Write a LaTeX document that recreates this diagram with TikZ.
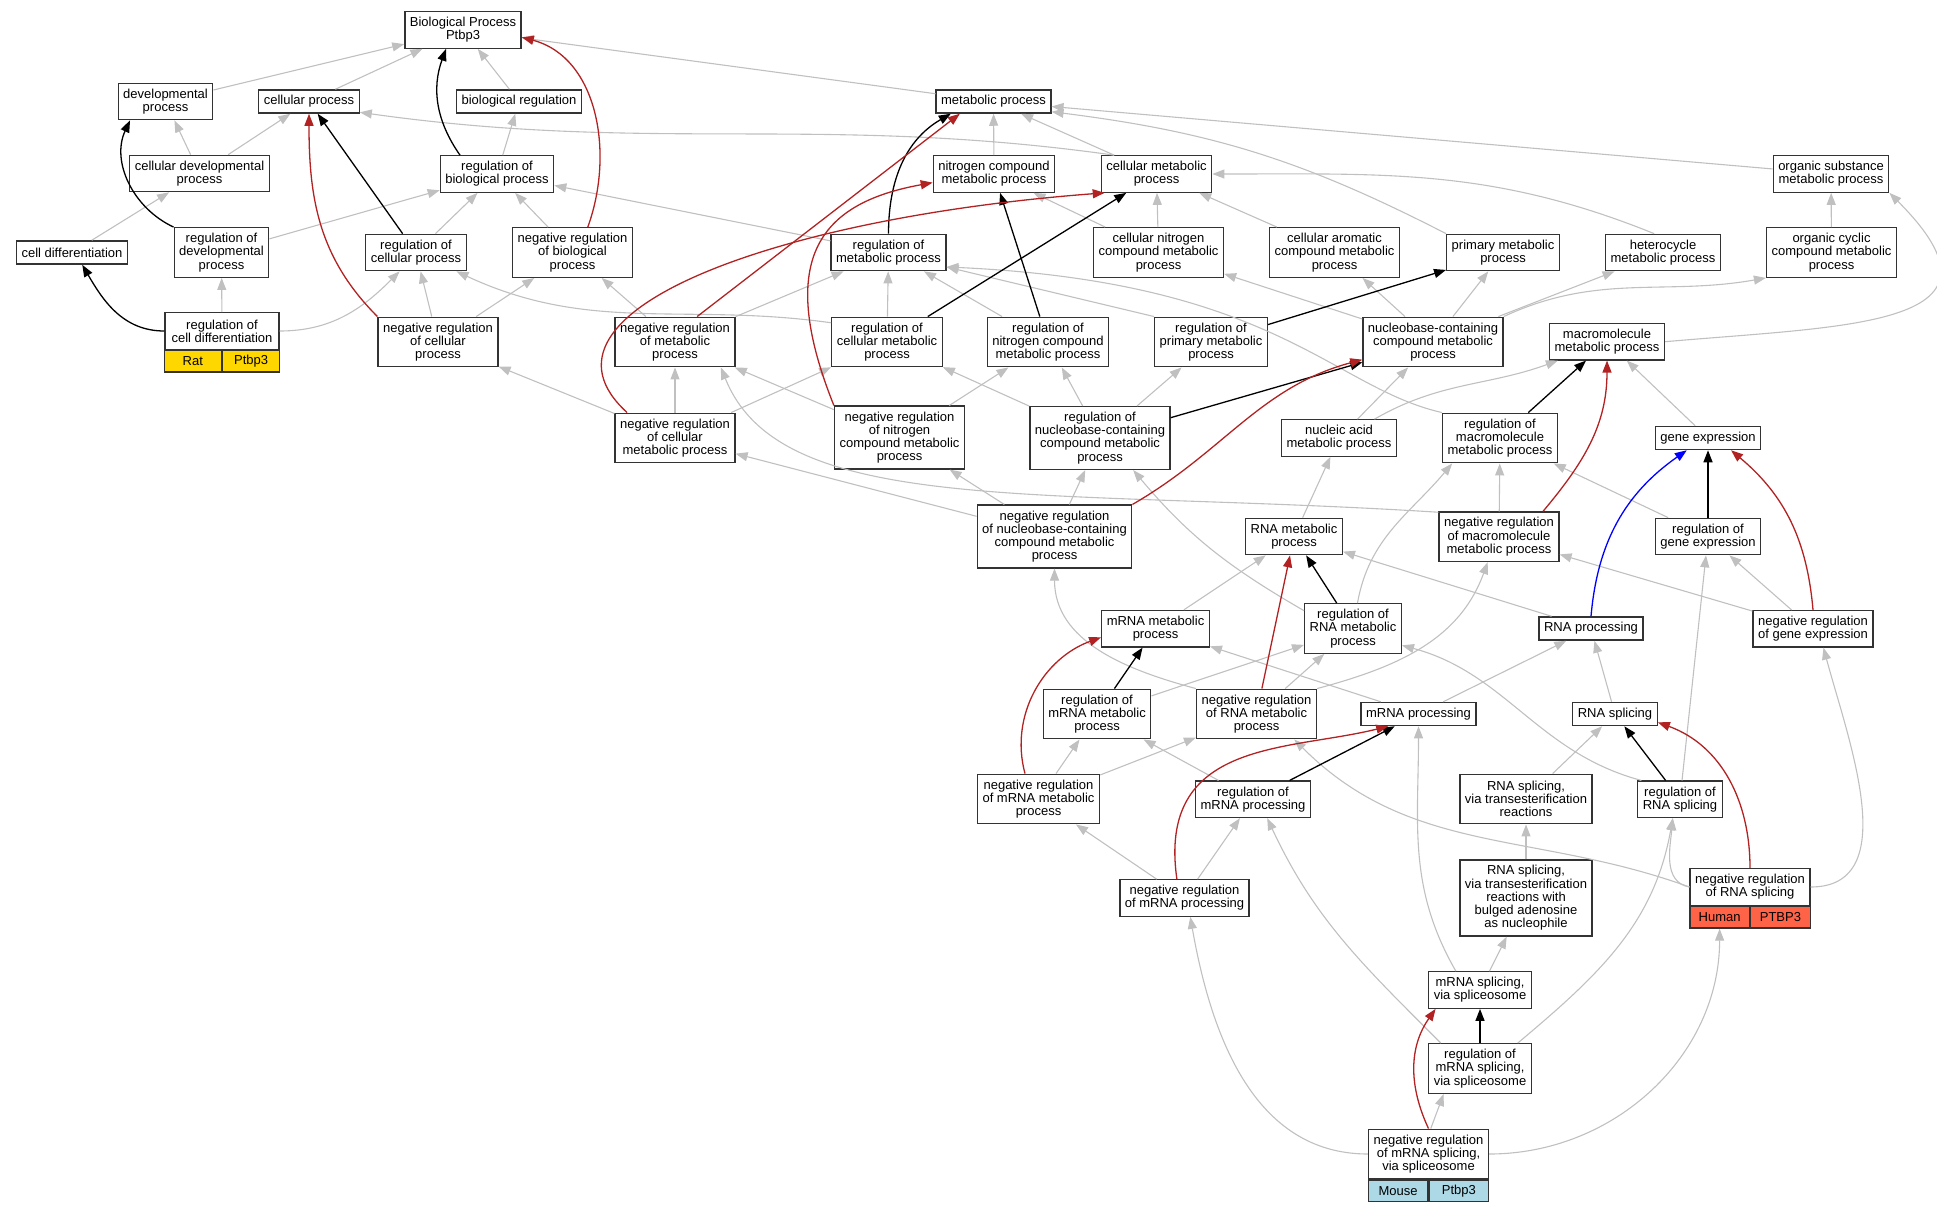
\documentclass[tikz,border=0pt]{standalone}
\usepackage{xcolor}
\usepackage{fontspec}
\setmainfont{Liberation Sans}
\usepackage{tikz}
\usetikzlibrary{bayesnet, calc, arrows.meta}

\definecolor{isagray}{HTML}{C0C0C0}
\definecolor{negred}{HTML}{B22222}
\definecolor{ratgold}{HTML}{FFD700}
\definecolor{humanred}{HTML}{FF6347}
\definecolor{mouseblue}{HTML}{ADD8E6}

\tikzset{
  term/.style={draw=black!80, line width=1.3pt, fill=white, rectangle, align=center,
    inner xsep=5pt, inner ysep=0pt, font=\fontsize{13}{13.2}\selectfont},
  nl/.style={minimum height={(10+13.2*#1)*1pt}},
  cell/.style={draw=black!80, line width=1.3pt, rectangle, inner sep=0pt,
    minimum height=21.5pt, font=\fontsize{13}{13.2}\selectfont},
  isa/.style={draw=isagray, line width=1.1pt, -{Triangle[length=12pt,width=9pt]}},
  reg/.style={draw=black, line width=1.3pt, -{Triangle[length=12pt,width=9pt]}},
  negreg/.style={draw=negred, line width=1.3pt, -{Triangle[length=12pt,width=9pt]}},
  partof/.style={draw=blue, line width=1.3pt, -{Triangle[length=12pt,width=9pt]}},
}

\begin{document}
\begin{tikzpicture}[x=1pt, y=1pt]
            \useasboundingbox (0,0) rectangle (1937,-1211);
            % top rows
            \node[term, nl=2] (bp) at (463,-30) {Biological Process\\Ptbp3};
            \node[term, nl=2] (dev) at (165.5,-101.5) {developmental\\process};
            \node[term, nl=1] (cellproc) at (309,-101.5) {cellular process};
            \node[term, nl=1] (bioreg) at (519,-101.5) {biological regulation};
            \node[term, nl=1] (metab) at (993.5,-101.5) {metabolic process};
            \node[term, nl=2] (celldev) at (199.5,-173.5) {cellular developmental\\process};
            \node[term, nl=2] (regbio) at (497,-174) {regulation of\\biological process};
            \node[term, nl=2] (nitro) at (994,-174) {nitrogen compound\\metabolic process};
            \node[term, nl=2] (cellmetab) at (1156.5,-174) {cellular metabolic\\process};
            \node[term, nl=2] (orgsub) at (1831,-174) {organic substance\\metabolic process};
            \node[term, nl=1] (celldiff) at (72,-252.5) {cell differentiation};
            \node[term, nl=3] (regdev) at (221.5,-252.5) {regulation of\\developmental\\process};
            \node[term, nl=2] (regcellproc) at (416,-252.5) {regulation of\\cellular process};
            \node[term, nl=3] (negregbio) at (572.5,-252.5) {negative regulation\\of biological\\process};
            \node[term, nl=2] (regmetab) at (888.5,-252.5) {regulation of\\metabolic process};
            \node[term, nl=3] (cellnitro) at (1158.5,-252.5) {cellular nitrogen\\compound metabolic\\process};
            \node[term, nl=3] (cellarom) at (1334.5,-252.5) {cellular aromatic\\compound metabolic\\process};
            \node[term, nl=2] (primary) at (1503,-252.5) {primary metabolic\\process};
            \node[term, nl=2] (hetero) at (1663,-252.5) {heterocycle\\metabolic process};
            \node[term, nl=3] (orgcyc) at (1831.5,-252.5) {organic cyclic\\compound metabolic\\process};
            % middle rows
            \node[term, nl=2, minimum width=114pt] (regcelldiff) at (222,-331) {regulation of\\cell differentiation};
            \node[cell, fill=ratgold, minimum width=57pt, anchor=north east] (rat) at (regcelldiff.south) {Rat};
            \node[cell, fill=ratgold, minimum width=57pt, anchor=north west] (ratgene) at (regcelldiff.south) {Ptbp3};
            \node[term, nl=3] (negregcellproc) at (438,-342) {negative regulation\\of cellular\\process};
            \node[term, nl=3] (negregmetab) at (675,-342) {negative regulation\\of metabolic\\process};
            \node[term, nl=3] (regcellmetab) at (887,-342) {regulation of\\cellular metabolic\\process};
            \node[term, nl=3] (regnitro) at (1048,-342) {regulation of\\nitrogen compound\\metabolic process};
            \node[term, nl=3] (regprimary) at (1211,-342) {regulation of\\primary metabolic\\process};
            \node[term, nl=3] (ncmp) at (1433,-342) {nucleobase-containing\\compound metabolic\\process};
            \node[term, nl=2] (macro) at (1607,-341.7) {macromolecule\\metabolic process};
            \node[term, nl=3] (negregcellmetab) at (675,-438) {negative regulation\\of cellular\\metabolic process};
            \node[term, nl=4] (negregnitro) at (899.5,-437.5) {negative regulation\\of nitrogen\\compound metabolic\\process};
            \node[term, nl=4] (regnucleo) at (1100,-438) {regulation of\\nucleobase-containing\\compound metabolic\\process};
            \node[term, nl=2] (nucacid) at (1339,-438) {nucleic acid\\metabolic process};
            \node[term, nl=3] (regmacro) at (1500,-438) {regulation of\\macromolecule\\metabolic process};
            \node[term, nl=1] (geneexp) at (1708,-438) {gene expression};
            \node[term, nl=4] (negregnucleo) at (1054.5,-536.5) {negative regulation\\of nucleobase-containing\\compound metabolic\\process};
            \node[term, nl=2] (rnametab) at (1294,-536.5) {RNA metabolic\\process};
            \node[term, nl=3] (negregmacro) at (1499,-536.7) {negative regulation\\of macromolecule\\metabolic process};
            \node[term, nl=2] (reggeneexp) at (1708,-536.5) {regulation of\\gene expression};
            % lower rows
            \node[term, nl=2] (mrnametab) at (1155.5,-628.7) {mRNA metabolic\\process};
            \node[term, nl=3] (regrnametab) at (1353,-628.5) {regulation of\\RNA metabolic\\process};
            \node[term, nl=1] (rnaproc) at (1591,-628.5) {RNA processing};
            \node[term, nl=2] (negreggeneexp) at (1813,-628.8) {negative regulation\\of gene expression};
            \node[term, nl=3] (regmrnametab) at (1097,-714) {regulation of\\mRNA metabolic\\process};
            \node[term, nl=3] (negregrnametab) at (1256.5,-714) {negative regulation\\of RNA metabolic\\process};
            \node[term, nl=1] (mrnaproc) at (1418.5,-714) {mRNA processing};
            \node[term, nl=1] (rnasplicing) at (1615,-714) {RNA splicing};
            \node[term, nl=3] (negregmrnametab) at (1038.5,-799) {negative regulation\\of mRNA metabolic\\process};
            \node[term, nl=2] (regmrnaproc) at (1253,-799.3) {regulation of\\mRNA processing};
            \node[term, nl=3] (splicetrans) at (1526,-799) {RNA splicing,\\via transesterification\\reactions};
            \node[term, nl=2] (regrnasplicing) at (1680,-799.3) {regulation of\\RNA splicing};
            \node[term, nl=2] (negregmrnaproc) at (1184.5,-898) {negative regulation\\of mRNA processing};
            \node[term, nl=5] (splicebulged) at (1526,-898) {RNA splicing,\\via transesterification\\reactions with\\bulged adenosine\\as nucleophile};
            \node[term, nl=2, minimum width=119pt] (negregrnasplicing) at (1750,-887) {negative regulation\\of RNA splicing};
            \node[cell, fill=humanred, minimum width=59.5pt, anchor=north east] (human) at (negregrnasplicing.south) {Human};
            \node[cell, fill=humanred, minimum width=59.5pt, anchor=north west] (humangene) at (negregrnasplicing.south) {PTBP3};
            \node[term, nl=2] (mrnasplicing) at (1480,-990) {mRNA splicing,\\via spliceosome};
            \node[term, nl=3] (regmrnasplicing) at (1480,-1068.5) {regulation of\\mRNA splicing,\\via spliceosome};
            \node[term, nl=3, minimum width=119pt] (negregmrnasplicing) at (1428.5,-1154) {negative regulation\\of mRNA splicing,\\via spliceosome};
            \node[cell, fill=mouseblue, minimum width=59.5pt, anchor=north east] (mouse) at (negregmrnasplicing.south) {Mouse};
            \node[cell, fill=mouseblue, minimum width=59.5pt, anchor=north west] (mousegene) at (negregmrnasplicing.south) {Ptbp3};
            % is_a
            \edge[isa]{dev,cellproc,bioreg,metab}{bp}
            \edge[isa]{celldev}{dev,cellproc}
            \edge[isa]{celldiff}{celldev}
            \edge[isa]{regcelldiff}{regdev}
            \edge[isa]{negregcellproc}{regcellproc,negregbio}
            \edge[isa]{regdev,regcellproc,negregbio,regmetab}{regbio}
            \edge[isa]{regbio}{bioreg}
            \edge[isa]{negregmetab}{negregbio,regmetab}
            \edge[isa]{nitro,cellmetab,orgsub}{metab}
            \edge[isa]{cellnitro,cellarom}{cellmetab}
            \edge[isa]{cellnitro}{nitro}
            \edge[isa]{orgcyc}{orgsub}
            \edge[isa]{ncmp}{cellnitro,cellarom,primary,hetero}
            \edge[isa]{regcellmetab}{regmetab}
            \edge[isa]{negregcellmetab}{negregcellproc,negregmetab,regcellmetab}
            \edge[isa]{negregnitro}{negregmetab,regnitro}
            \edge[isa]{regnucleo}{regcellmetab,regnitro,regprimary}
            \edge[isa]{nucacid}{ncmp}
            \edge[isa]{geneexp}{macro}
            \edge[isa]{negregnucleo}{negregcellmetab,negregnitro,regnucleo}
            \edge[isa]{rnametab}{nucacid}
            \edge[isa]{negregmacro,reggeneexp}{regmacro}
            \edge[isa]{negreggeneexp}{negregmacro,reggeneexp}
            \edge[isa]{regrnasplicing}{reggeneexp}
            \edge[isa]{mrnametab,rnaproc}{rnametab}
            \edge[isa]{regmrnametab,negregrnametab}{regrnametab}
            \edge[isa]{mrnaproc}{mrnametab,rnaproc}
            \edge[isa]{rnasplicing}{rnaproc}
            \edge[isa]{negregmrnametab,regmrnaproc}{regmrnametab}
            \edge[isa]{negregmrnametab}{negregrnametab}
            \edge[isa]{splicetrans}{rnasplicing}
            \edge[isa]{negregmrnaproc}{negregmrnametab,regmrnaproc}
            \edge[isa]{splicebulged}{splicetrans}
            \edge[isa]{mrnasplicing}{splicebulged}
            \draw [isa] (regcelldiff.east) to [out=0,in=225] (regcellproc.229);
            \draw [isa] (regcellmetab.161) to [out=172,in=-25] (regcellproc.-25);
            \draw [isa] (cellmetab.156) to [out=172,in=-8] (cellproc.-12);
            \draw [isa] (primary.north west) to [bend right=10] (metab.-10);
            \draw [isa] (hetero.115) to [out=158,in=0] (cellmetab.east);
            \draw [isa] (macro.east) to [out=5,in=-45,looseness=1.8] (orgsub.south east);
            \draw [isa] (ncmp.north east) to [out=25,in=190] (orgcyc.south west);
            \draw [isa] (regnitro.151) -- (regmetab.-28);
            \draw [isa] (regprimary.north west) -- (regmetab.-14);
            \draw [isa] (regmacro.north west) .. controls +(-110,25) and +(330,-15) .. (regmetab.-14);
            \draw [isa] (negregmacro.158) .. controls +(-400,25) and +(60,-150) .. (negregmetab.-29);
            \draw [isa] (nucacid.28) to [out=30,in=200] (macro.201);
            \draw [isa] (regrnametab.160) to [out=150,in=-50] (regnucleo.-44);
            \draw [isa] (regrnametab.80) to [out=80,in=230] (regmacro.208);
            \draw [isa] (negregrnametab.north west) to [out=165,in=-90] (negregnucleo.south);
            \draw [isa] (negregrnametab.north east) to [out=15,in=-110] (negregmacro.246);
            \draw [isa] (regrnasplicing.154) to [out=165,in=-15] (regrnametab.-19);
            \draw [isa] (negregrnasplicing.west) to [out=160,in=-45] (negregrnametab.-34);
            \draw [isa] (negregrnasplicing.west) to [out=170,in=-95] (regrnasplicing.-111);
            \draw [isa] (negregrnasplicing.east) to [out=0,in=-75] (negreggeneexp.-61);
            \draw [isa] (mrnasplicing.142) to [out=120,in=-90] (mrnaproc.south);
            \draw [isa] (regmrnasplicing.147) to [out=135,in=-65] (regmrnaproc.-53);
            \draw [isa] (regmrnasplicing.34) to [out=40,in=-100] (regrnasplicing.-111);
            \draw [isa] (negregmrnasplicing.west) to [out=180,in=-80] (negregmrnaproc.-73);
            \draw [isa] (negregmrnasplicing.east) to [out=0,in=-90] (human.south);
            \draw [isa] (negregmrnasplicing.85) -- (regmrnasplicing.215);
            % regulates
            \edge[reg]{regcellproc}{cellproc}
            \edge[reg]{regcellmetab}{cellmetab}
            \edge[reg]{regnitro}{nitro}
            \edge[reg]{regprimary}{primary}
            \edge[reg]{regnucleo}{ncmp}
            \edge[reg]{regmacro}{macro}
            \edge[reg]{reggeneexp}{geneexp}
            \edge[reg]{regrnametab}{rnametab}
            \edge[reg]{regmrnametab}{mrnametab}
            \edge[reg]{regmrnaproc}{mrnaproc}
            \edge[reg]{regrnasplicing}{rnasplicing}
            \edge[reg]{regmrnasplicing}{mrnasplicing}
            \draw [reg] (regbio.153) to [out=125,in=250] (bp.228);
            \draw [reg] (regdev.north west) to [out=155,in=245] (dev.208);
            \draw [reg] (regcelldiff.west) to [out=180,in=-60] (celldiff.-50);
            \draw [reg] (regmetab.north) to [out=90,in=210] (metab.196);
            % negatively regulates
            \draw [negreg] (negregbio.59) to [out=70,in=-15] (bp.-7);
            \draw [negreg] (negregcellproc.north west) to [out=135,in=-90] (cellproc.south);
            \draw [negreg] (negregmetab.49) -- (metab.200);
            \draw [negreg] (negregcellmetab.152) .. controls +(-110,100) and +(-330,-25) .. (cellmetab.200);
            \draw [negreg] (negregnitro.north west) .. controls +(-60,150) and +(-110,-20) .. (nitro.188);
            \draw [negreg] (negregnucleo.north east) to [out=30,in=195] (ncmp.194);
            \draw [negreg] (negregmacro.30) to [out=50,in=-90] (macro.south);
            \draw [negreg] (negreggeneexp.north) to [out=95,in=-40] (geneexp.-28);
            \edge[negreg]{negregrnametab}{rnametab}
            \draw [negreg] (negregmrnametab.118) to [out=105,in=200] (mrnametab.189);
            \draw [negreg] (negregmrnaproc.112) .. controls +(-20,140) and +(-100,-25) .. (mrnaproc.202);
            \draw [negreg] (negregrnasplicing.north) to [out=90,in=-20] (rnasplicing.-11);
            \draw [negreg] (negregmrnasplicing.north) to [out=115,in=235] (mrnasplicing.203);
            % part_of
            \draw [partof] (rnaproc.north) to [out=85,in=215] (geneexp.210);
\end{tikzpicture}
\end{document}
